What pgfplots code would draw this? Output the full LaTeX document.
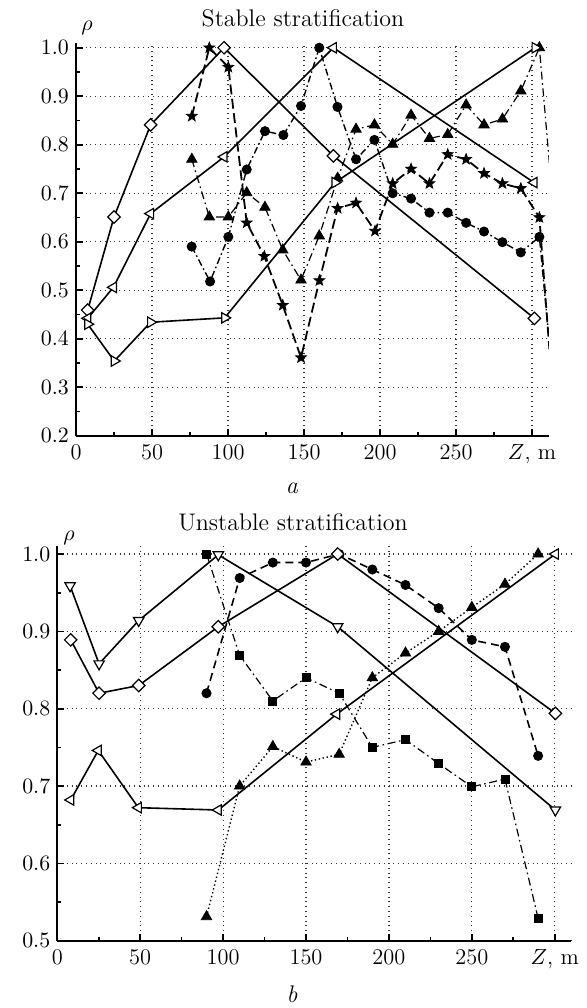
\documentclass[border=0pt]{standalone}
\usepackage{pgfplots}
\pgfplotsset{compat=1.18}
\pgfdeclareplotmark{fstar}{%
 \pgfpathmoveto{\pgfpointpolar{90}{\pgfplotmarksize}}%
 \pgfpathlineto{\pgfpointpolar{126}{0.42\pgfplotmarksize}}%
 \pgfpathlineto{\pgfpointpolar{162}{\pgfplotmarksize}}%
 \pgfpathlineto{\pgfpointpolar{198}{0.42\pgfplotmarksize}}%
 \pgfpathlineto{\pgfpointpolar{234}{\pgfplotmarksize}}%
 \pgfpathlineto{\pgfpointpolar{270}{0.42\pgfplotmarksize}}%
 \pgfpathlineto{\pgfpointpolar{306}{\pgfplotmarksize}}%
 \pgfpathlineto{\pgfpointpolar{342}{0.42\pgfplotmarksize}}%
 \pgfpathlineto{\pgfpointpolar{18}{\pgfplotmarksize}}%
 \pgfpathlineto{\pgfpointpolar{54}{0.42\pgfplotmarksize}}%
 \pgfpathclose
 \pgfusepathqfillstroke
}
\pgfplotsset{
 myax/.style={
  scale only axis,
  axis x line*=bottom, axis y line*=left,
  axis line style={line width=1.1pt},
  tick align=inside,
  major tick length=3.5pt, minor tick length=2pt,
  tick style={black, line width=0.8pt},
  grid=major,
  major grid style={dotted, line width=0.6pt, black!80},
  minor x tick num=1, minor y tick num=1,
  xtick={0,50,100,150,200,250,300},
  xticklabels={0,50,100,150,200,250,{$Z$, m}},
  tick label style={font=\fontsize{11.2}{13}\selectfont},
  yticklabel style={/pgf/number format/.cd, fixed, fixed zerofill, precision=1},
  xticklabel style={yshift=-1pt},
  clip=true,
 },
 solidl/.style={solid, line width=0.8pt},
 openmk/.style={mark options={solid, fill=white, draw=black, line width=0.6pt, #1}},
 openmk/.default={},
 fillmk/.style={mark options={solid, fill=black, draw=black, line width=0.4pt}},
}
\begin{document}
\begin{tikzpicture}
\useasboundingbox (0,0) rectangle (293.5pt,504pt);
% ---------- top panel ----------
\begin{axis}[myax,
  at={(38pt,286.15pt)}, anchor=south west,
  width=236.4pt, height=196.4pt,
  xmin=0, xmax=311, ymin=0.2, ymax=1.01,
  ytick={0.2,0.3,0.4,0.5,0.6,0.7,0.8,0.9,1.0},
]
% filled triangles, dash-dot
\addplot[black, line width=0.6pt, dash pattern=on 4pt off 1.8pt on 0.8pt off 1.8pt, mark=triangle*, mark size=3pt, fillmk] coordinates {
(76.2,0.770) (87.7,0.651) (100.2,0.651) (112.3,0.701) (124.3,0.671) (136,0.583) (148,0.521) (160,0.612) (172.1,0.731) (184.2,0.832) (196.3,0.841) (208.3,0.801) (220.4,0.861) (232.5,0.813) (244.5,0.821) (256.6,0.882) (268.4,0.841) (280.5,0.853) (292.6,0.911) (304.8,1.0) (315.8,0.603)};
% circles, dash-dot
\addplot[black, line width=0.7pt, dash pattern=on 3.5pt off 1.5pt on 0.8pt off 1.5pt, mark=*, mark size=2.3pt, fillmk, mark indices={1,...,20}] coordinates {
(76.1,0.590) (88.2,0.518) (100.2,0.610) (112.3,0.749) (124.3,0.828) (136.4,0.820) (148,0.880) (160,1.0) (172,0.878) (184.2,0.770) (196.3,0.810) (208.3,0.700) (220.4,0.689) (232.5,0.660) (244.5,0.660) (256.6,0.639) (268.4,0.621) (280.5,0.599) (292.6,0.578) (304.8,0.610) (311,0.404)};
% stars, dashed
\addplot[black, line width=0.9pt, dash pattern=on 5pt off 2.2pt, mark=fstar, mark size=2.8pt, fillmk, mark indices={1,...,20}] coordinates {
(76.2,0.859) (87.7,1.0) (100.2,0.960) (112.3,0.639) (123.9,0.570) (136,0.469) (148,0.361) (160.1,0.520) (172.1,0.669) (184.2,0.680) (196.7,0.622) (208.3,0.720) (220.4,0.750) (232.5,0.720) (244.5,0.780) (256.6,0.770) (268.4,0.741) (280.5,0.720) (292.6,0.710) (304.8,0.650) (311.4,0.378)};
% open diamonds
\addplot[black, solidl, mark=square*, mark size=2.2pt, openmk={rotate=45}] coordinates {
(7.7,0.459) (25,0.651) (49.1,0.841) (97.4,1.0) (169.3,0.777) (301.5,0.442)};
% open left triangles
\addplot[black, solidl, mark=triangle*, mark size=3pt, openmk={rotate=90}] coordinates {
(7.7,0.442) (24.6,0.506) (49.1,0.658) (97.4,0.775) (169.3,1.0) (301.3,0.722)};
% open right triangles
\addplot[black, solidl, mark=triangle*, mark size=3pt, openmk={rotate=-90}] coordinates {
(7.7,0.430) (25.2,0.354) (49.1,0.434) (97.8,0.443) (170.4,0.722) (302,1.0)};
\end{axis}
% ---------- bottom panel ----------
\begin{axis}[myax,
  at={(28.65pt,33.65pt)}, anchor=south west,
  width=257pt, height=197.2pt,
  xmin=0, xmax=310, ymin=0.5, ymax=1.01,
  ytick={0.5,0.6,0.7,0.8,0.9,1.0},
]
% filled triangles, dotted
\addplot[black, line width=0.7pt, dash pattern=on 0.7pt off 1.3pt, mark=triangle*, mark size=3pt, fillmk] coordinates {
(90,0.531) (110,0.700) (130,0.751) (150,0.731) (170,0.741) (190,0.840) (210,0.872) (230,0.900) (250,0.931) (270,0.961) (290,1.0)};
% squares, dash-dot
\addplot[black, line width=0.6pt, dash pattern=on 4pt off 1.8pt on 0.8pt off 1.8pt, mark=square*, mark size=2pt, fillmk] coordinates {
(90,1.0) (110,0.869) (130,0.810) (150,0.840) (170,0.820) (190,0.750) (210,0.760) (230,0.729) (250,0.699) (270,0.709) (290,0.529)};
% circles, dashed
\addplot[black, line width=0.8pt, dash pattern=on 4pt off 2.5pt, mark=*, mark size=2.3pt, fillmk] coordinates {
(90,0.820) (110,0.969) (130,0.989) (150,0.989) (170,1.0) (190,0.980) (210,0.960) (230,0.930) (250,0.889) (270,0.880) (290,0.739)};
% open down triangles
\addplot[black, solidl, mark=triangle*, mark size=3pt, openmk={rotate=180}] coordinates {
(7.7,0.959) (25.2,0.858) (49.1,0.914) (97.1,0.999) (169.1,0.906) (300.4,0.669)};
% open diamonds
\addplot[black, solidl, mark=square*, mark size=2.2pt, openmk={rotate=45}] coordinates {
(8.1,0.889) (25.2,0.820) (49.1,0.830) (97.1,0.906) (169.1,1.0) (300.4,0.794)};
% open left triangles
\addplot[black, solidl, mark=triangle*, mark size=3pt, openmk={rotate=90}] coordinates {
(8.1,0.682) (24.7,0.746) (48.9,0.672) (97.1,0.669) (168.5,0.793) (300.4,1.0)};
\end{axis}
% ---------- texts ----------
\node[anchor=base, font=\fontsize{12}{14}\selectfont] at (151.5pt,490.5pt) {Stable stratification};
\node[anchor=base, font=\fontsize{12}{14}\selectfont] at (146.5pt,238.5pt) {Unstable stratification};
\node[font=\fontsize{11}{13}\selectfont] at (43.5pt,490pt) {$\rho$};
\node[font=\fontsize{11}{13}\selectfont] at (34.5pt,235pt) {$\rho$};
\node[anchor=base, font=\fontsize{12}{14}\selectfont] at (146pt,257pt) {\textit{a}};
\node[anchor=base, font=\fontsize{12}{14}\selectfont] at (146pt,2.5pt) {\textit{b}};
\end{tikzpicture}
\end{document}
